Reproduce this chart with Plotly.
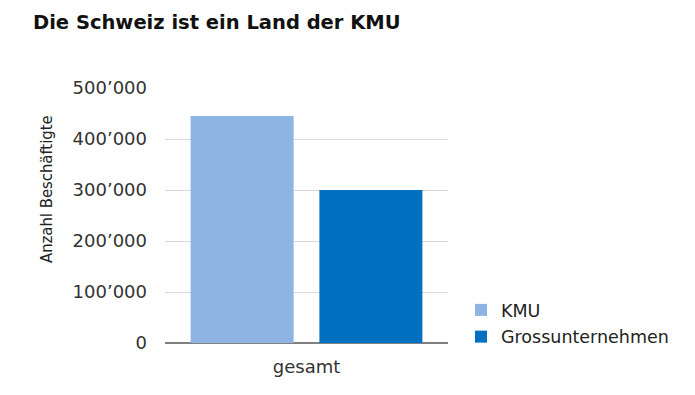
import plotly.graph_objects as go

categories = ["gesamt"]
series_names = ["KMU", "Grossunternehmen"]
kmu_values = [445000]
gross_values = [300000]
tick_values = [0, 100000, 200000, 300000, 400000, 500000]
tick_labels = ["0", "100’000", "200’000", "300’000", "400’000", "500’000"]
colors = ["#8DB4E2", "#0070C0"]

# page body has an 8px margin; figure coords = screen coords - 8
OFF = 8
W, H = 687, 387
L, R, T, B = 165 - OFF, 687 - (448 - OFF), 88 - OFF, 387 - (343 - OFF)
PW, PH = W - L - R, H - T - B

fig = go.Figure()
for i, (name, vals) in enumerate(zip(series_names, [kmu_values, gross_values])):
    fig.add_trace(go.Bar(x=categories, y=vals, name=name, marker_color=colors[i],
                         marker_line_width=0, legendgroup=name))

tick_font = dict(family="DejaVu Sans", size=18, color="#333333")
fig.update_layout(
    width=W, height=H,
    margin=dict(l=L, r=R, t=T, b=B, autoexpand=False),
    paper_bgcolor="white", plot_bgcolor="white",
    barmode="group", bargap=0.09, bargroupgap=0.2,
    title=dict(text="<b>Die Schweiz ist ein Land der KMU</b>", x=(33 - OFF) / W, xanchor="left",
               y=1 - (22 - OFF) / H, yanchor="middle",
               font=dict(family="DejaVu Sans", size=19.5, color="#111111")),
    showlegend=True,
    legend=dict(x=(461 - OFF - L) / PW, xanchor="left", y=(H - B - (292 - OFF)) / PH,
                yanchor="top", font=dict(family="DejaVu Sans", size=17.5, color="#222222"),
                traceorder="grouped", tracegroupgap=1, bgcolor="rgba(0,0,0,0)"),
    xaxis=dict(showgrid=False, showline=False, ticks="", tickfont=tick_font,
               ticklabelstandoff=11),
    yaxis=dict(range=[0, 500000], tickvals=tick_values, ticktext=tick_labels,
               showgrid=True, gridcolor="#D9D9D9", gridwidth=1,
               zeroline=True, zerolinecolor="#808080", zerolinewidth=1.5,
               showline=False, ticks="", tickfont=tick_font, ticklabelstandoff=17),
    annotations=[dict(text="Anzahl Beschäftigte", xref="paper", yref="paper",
                      x=(46 - OFF - L) / PW, y=(H - B - (189 - OFF)) / PH,
                      xanchor="center", yanchor="middle", textangle=-90, showarrow=False,
                      font=dict(family="DejaVu Sans Condensed, Liberation Sans Narrow, Roboto Condensed, DejaVu Sans",
                                size=16.5, color="#222222"))],
)

fig.write_html("out.html")
